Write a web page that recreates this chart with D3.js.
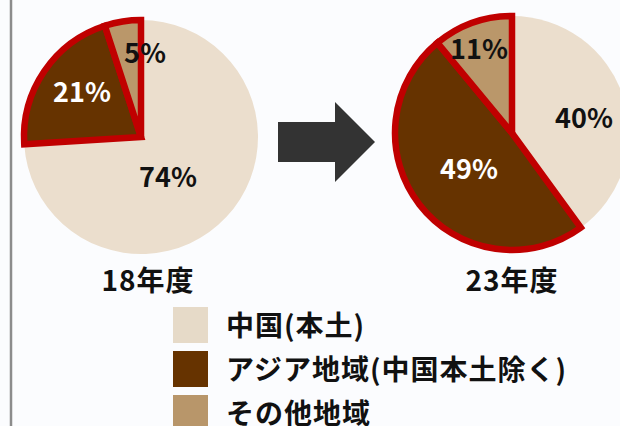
<!DOCTYPE html>
<html>
<head>
<meta charset="utf-8">
<script src="https://cdn.jsdelivr.net/npm/d3@7"></script>
<style>
  html, body { margin: 0; padding: 0; background: #fbfcfe; }
  svg { display: block; font-family: "Noto Sans CJK JP", "Noto Sans", sans-serif; }
</style>
</head>
<body>
<svg id="chart"></svg>
<script>
var categories = ["中国(本土)", "アジア地域(中国本土除く)", "その他地域"];
var years = ["18年度", "23年度"];
var values18 = [74, 21, 5];
var values23 = [40, 49, 11];
var highlighted = [false, true, true];

var colors = ["#ebdecd", "#663300", "#ba976a"];
var legendColors = ["#e6dac8", "#663300", "#b8966a"];
var labelColors = ["#111", "#fff", "#111"];

var width = 620, height = 426;
var svg = d3.select("#chart").attr("width", width).attr("height", height);

svg.append("rect").attr("width", width).attr("height", height).attr("fill", "#fbfcfe");

// left gray rule
svg.append("line")
    .attr("x1", 11).attr("x2", 11)
    .attr("y1", 0).attr("y2", height)
    .attr("stroke", "#8c8c8c").attr("stroke-width", 2.5);

var r = 117;
var pie = d3.pie().sort(null).value(function (d) { return d; });
var arc = d3.arc().innerRadius(0).outerRadius(r);

// label positions are hand-tuned offsets from pie centre
var pies = [
    {values: values18, cx: 141, cy: 137, year: years[0], yx: 148,
     labelPos: [[27, 41], [-59, -44], [4, -83]]},
    {values: values23, cx: 512, cy: 133, year: years[1], yx: 512,
     labelPos: [[72, -14], [-43, 37], [-33, -83]]}
];

pies.forEach(function (p) {
    var g = svg.append("g").attr("transform", "translate(" + p.cx + "," + p.cy + ")");
    var arcs = pie(p.values);

    // plain slices first, highlighted ones on top with the red outline
    g.selectAll("path.plain")
        .data(arcs.filter(function (d, i) { return !highlighted[i]; }))
        .enter().append("path")
        .attr("class", "plain")
        .attr("d", arc)
        .attr("fill", function (d) { return colors[d.index]; });

    g.selectAll("path.hl")
        .data(arcs.filter(function (d, i) { return highlighted[i]; }))
        .enter().append("path")
        .attr("class", "hl")
        .attr("d", arc)
        .attr("fill", function (d) { return colors[d.index]; })
        .attr("stroke", "#c00000")
        .attr("stroke-width", 6.5)
        .attr("stroke-linejoin", "miter");

    g.selectAll("text.pct")
        .data(arcs)
        .enter().append("text")
        .attr("class", "pct")
        .attr("x", function (d) { return p.labelPos[d.index][0]; })
        .attr("y", function (d) { return p.labelPos[d.index][1]; })
        .attr("dy", "0.35em")
        .attr("text-anchor", "middle")
        .attr("font-size", 27)
        .attr("font-weight", "bold")
        .attr("fill", function (d) { return labelColors[d.index]; })
        .text(function (d) { return d.data + "%"; });

    svg.append("text")
        .attr("x", p.yx).attr("y", 281)
        .attr("dy", "0.35em")
        .attr("text-anchor", "middle")
        .attr("font-size", 28)
        .attr("font-weight", "bold")
        .attr("letter-spacing", 1)
        .attr("fill", "#111")
        .text(p.year);
});

// arrow between the pies
var arrowPts = [[278, 122], [335, 122], [335, 102], [375, 142], [335, 182], [335, 162], [278, 162]];
svg.append("path")
    .attr("d", d3.line()(arrowPts) + "Z")
    .attr("fill", "#333");

// legend
var legend = svg.append("g").attr("transform", "translate(173,307)");
var rows = legend.selectAll("g")
    .data(categories)
    .enter().append("g")
    .attr("transform", function (d, i) { return "translate(0," + (i * 44) + ")"; });

rows.append("rect")
    .attr("width", 35).attr("height", 36)
    .attr("fill", function (d, i) { return legendColors[i]; });

rows.append("text")
    .attr("x", 53).attr("y", 19)
    .attr("dy", "0.35em")
    .attr("font-size", 28)
    .attr("font-weight", "bold")
    .attr("letter-spacing", 1)
    .attr("fill", "#111")
    .text(function (d) { return d; });
</script>
</body>
</html>
